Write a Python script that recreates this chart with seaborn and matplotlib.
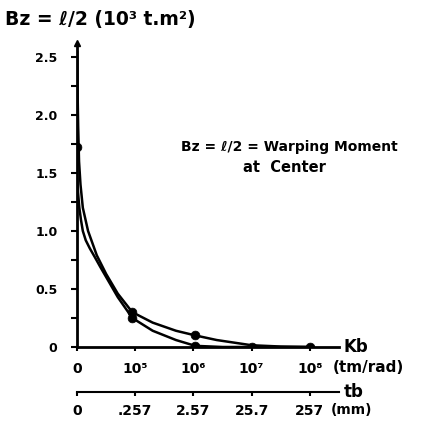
import numpy as np
import pandas as pd
import seaborn as sns
import matplotlib.pyplot as plt

# Kb axis positions (0, 1e5 .. 1e8 drawn at equal spacing) and readings of Bz = l/2
kb_labels = ["0", "10⁵", "10⁶", "10⁷", "10⁸"]
tb_labels = ["0", ".257", "2.57", "25.7", "257"]
y_ticks = [0, 0.5, 1.0, 1.5, 2.0, 2.5]
y_labels = ["0", "0.5", "1.0", "1.5", "2.0", "2.5"]

# upper curve (stays higher on the right)
curve_a_x = [0.0, 0.01, 0.02, 0.035, 0.06, 0.1, 0.19, 0.34, 0.5, 0.7, 0.95, 1.3, 1.7, 2.03, 2.4, 2.8, 3.0, 3.5, 4.0]
curve_a_y = [2.55, 2.2, 1.9, 1.6, 1.4, 1.2, 1.0, 0.79, 0.63, 0.46, 0.30, 0.21, 0.14, 0.10, 0.06, 0.03, 0.015, 0.004, 0.0]
# lower curve
curve_b_x = [0.0, 0.0, 0.0, 0.015, 0.04, 0.07, 0.1, 0.15, 0.22, 0.3, 0.4, 0.55, 0.7, 0.95, 1.3, 1.7, 2.03, 2.5, 3.0, 4.0]
curve_b_y = [2.55, 1.72, 1.5, 1.35, 1.2, 1.09, 1.0, 0.92, 0.85, 0.78, 0.69, 0.56, 0.43, 0.25, 0.14, 0.06, 0.01, 0.0, 0.0, 0.0]
# plotted points
mark_x = [0.0, 0.95, 0.95, 2.03, 2.03, 3.0, 4.0]
mark_y = [1.72, 0.30, 0.25, 0.10, 0.01, 0.0, 0.0]

df = pd.concat([
    pd.DataFrame({"kb": curve_a_x, "bz": curve_a_y, "curve": "a"}),
    pd.DataFrame({"kb": curve_b_x, "bz": curve_b_y, "curve": "b"}),
])

sns.set_theme(style="ticks")
plt.rcParams["font.family"] = ["DejaVu Sans"]
plt.rcParams["font.weight"] = "bold"
plt.rcParams["text.color"] = "black"

fig = plt.figure(figsize=(4.42, 4.26), dpi=100)
ax = fig.add_axes([77 / 442, 79 / 426, 262 / 442, 304 / 426])

sns.lineplot(data=df, x="kb", y="bz", units="curve", estimator=None, sort=False,
             color="black", linewidth=1.8, ax=ax, legend=False)
sns.scatterplot(x=mark_x, y=mark_y, color="black", s=40, edgecolor="black", ax=ax, zorder=5)

ax.set_xlim(0, 4.5)
ax.set_ylim(0, 2.62)
sns.despine(ax=ax)
for s in ["left", "bottom"]:
    ax.spines[s].set_linewidth(2)
    ax.spines[s].set_color("black")

ax.set_yticks(y_ticks)
ax.set_yticklabels(y_labels, fontsize=9, fontweight="bold")
ax.set_yticks(np.arange(0.25, 2.6, 0.5), minor=True)
ax.tick_params(axis="y", which="both", length=4, width=1.5, pad=10, colors="black")
ax.set_xticks(range(len(kb_labels)))
ax.set_xticklabels(kb_labels, fontsize=10, fontweight="bold")
ax.tick_params(axis="x", length=3, width=1.5, pad=8, colors="black")
ax.set_xlabel("")
ax.set_ylabel("")

# arrow head on the y axis
ax.plot([0], [2.62], marker="^", color="black", ms=5, clip_on=False)

# second scale (tb) under the Kb axis
sec = ax.secondary_xaxis(-0.148)
sec.set_xticks(range(len(tb_labels)))
sec.set_xticklabels(tb_labels, fontsize=10, fontweight="bold")
sec.tick_params(axis="x", length=3, width=1.5, pad=6, colors="black")
sec.spines["bottom"].set_linewidth(1.5)
sec.spines["bottom"].set_color("black")

ax.text(4.58, 0.0, "Kb", fontsize=12, fontweight="bold", va="center", ha="left", clip_on=False)
ax.text(4.4, -0.175, "(tm/rad)", fontsize=11, fontweight="bold", va="center", ha="left", clip_on=False)
ax.text(4.58, -0.39, "tb", fontsize=12, fontweight="bold", va="center", ha="left", clip_on=False)
ax.text(4.35, -0.545, "(mm)", fontsize=10, fontweight="bold", va="center", ha="left", clip_on=False)

fig.text(5 / 442, 1 - 20 / 426, "Bz = ℓ/2 (10³ t.m²)", fontsize=13.5, fontweight="bold", va="center", ha="left")
ax.text(1.78, 1.72, "Bz = ℓ/2 = Warping Moment", fontsize=10, fontweight="bold", va="center", ha="left")
ax.text(2.85, 1.55, "at  Center", fontsize=10.5, fontweight="bold", va="center", ha="left")

fig.savefig("out.png", dpi=100, facecolor="white")
